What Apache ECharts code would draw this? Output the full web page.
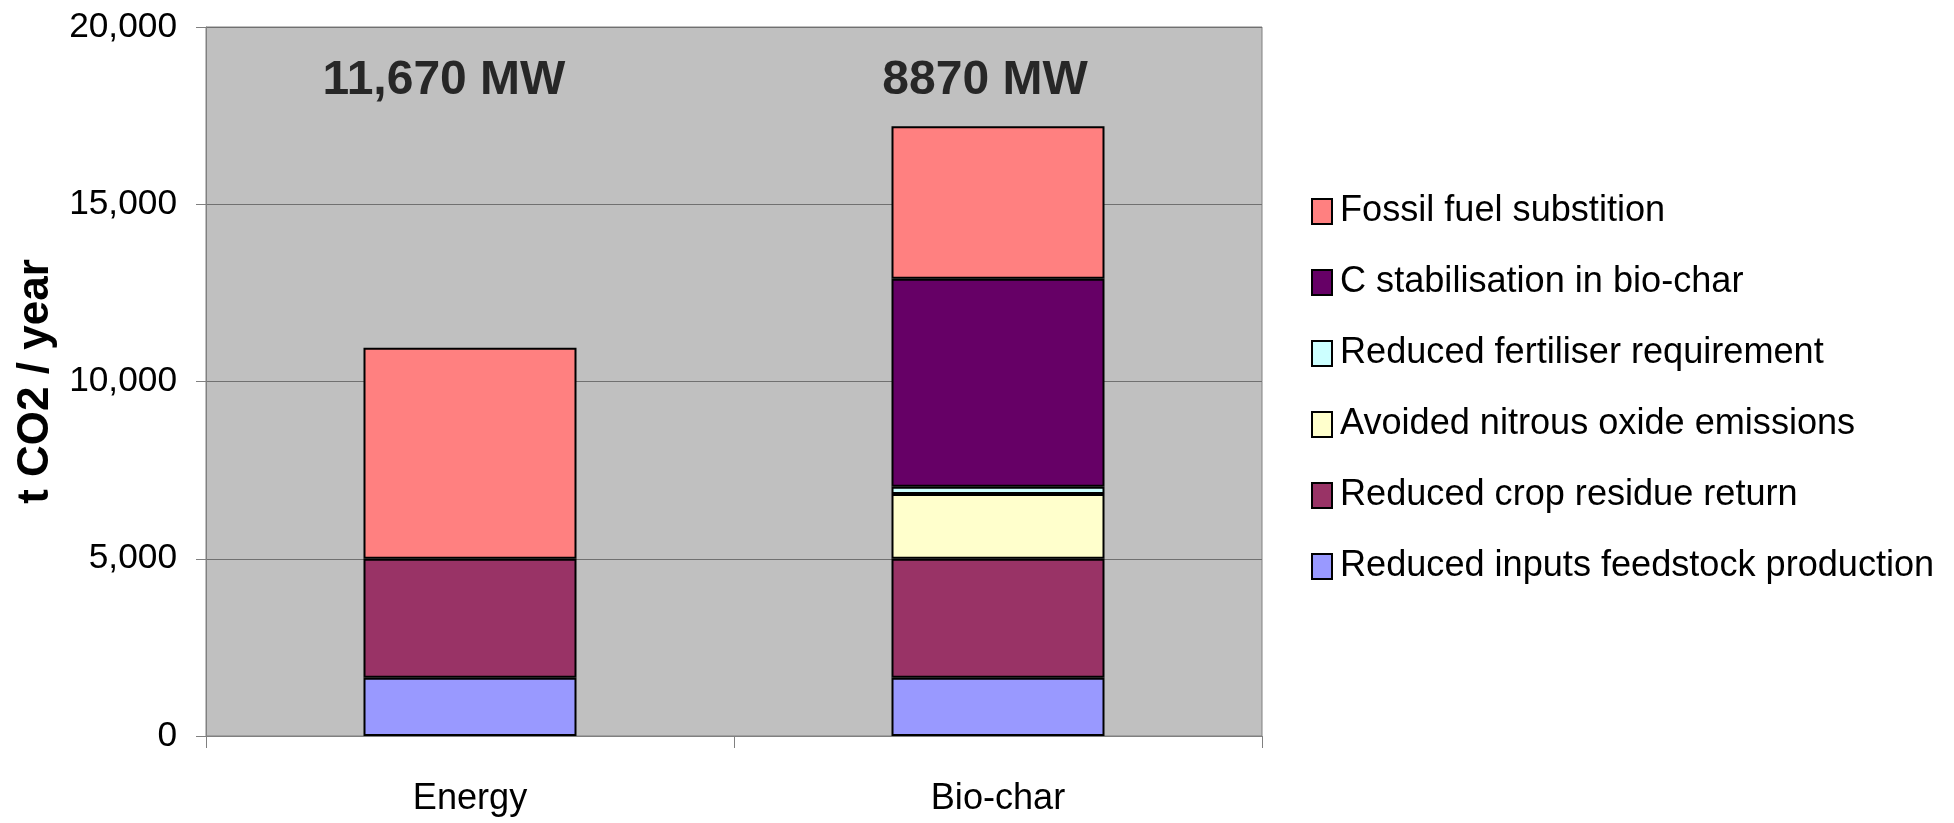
<!DOCTYPE html>
<html>
<head>
<meta charset="utf-8">
<script src="https://cdn.jsdelivr.net/npm/echarts@6/dist/echarts.min.js"></script>
<style>
html,body{margin:0;padding:0;background:#fff;}
#chart{width:1954px;height:823px;}
</style>
</head>
<body>
<div id="chart"></div>
<script>
// ---- data ----
const categories = ['Energy', 'Bio-char'];
const inputsFeedstock = [1640, 1640];
const cropResidue = [3360, 3360];
const nitrousOxide = [null, 1830];
const fertiliser = [null, 200];
const cStabilisation = [null, 5870];
const fossilFuel = [5950, 4300];
const mwLabels = ['11,670 MW', '8870 MW'];
const seriesNames = [
  'Reduced inputs feedstock production',
  'Reduced crop residue return',
  'Avoided nitrous oxide emissions',
  'Reduced fertiliser requirement',
  'C stabilisation in bio-char',
  'Fossil fuel substition'
];
const yTicks = { min: 0, max: 20000, interval: 5000 };

// ---- font detection ----
function hasFont(name) {
  const c = document.createElement('canvas').getContext('2d');
  const s = 'Reduced inputs 15,000 Energy';
  c.font = '40px monospace';
  const a = c.measureText(s).width;
  c.font = '40px "' + name + '", monospace';
  const b = c.measureText(s).width;
  return Math.abs(a - b) > 0.5;
}
let narrowFamily, k = 1;
if (hasFont('Liberation Sans Narrow')) narrowFamily = '"Liberation Sans Narrow"';
else if (hasFont('Arial Narrow')) narrowFamily = '"Arial Narrow"';
else { narrowFamily = '"Liberation Sans", Arial, sans-serif'; k = 0.84; }

const colors = ['#9999FF', '#993366', '#FFFFCC', '#CCFFFF', '#660066', '#FF8080'];
const values = [inputsFeedstock, cropResidue, nitrousOxide, fertiliser, cStabilisation, fossilFuel];

const chart = echarts.init(document.getElementById('chart'));

const barSeries = seriesNames.map((name, i) => ({
  name: name,
  type: 'bar',
  stack: 'total',
  barWidth: 213,
  data: values[i],
  itemStyle: { color: colors[i], borderColor: '#000', borderWidth: 2 },
  emphasis: { disabled: true }
}));

const labelY = 18480;
const labelOffsets = [[-26, 0], [-13, 0]];
const annotation = {
  type: 'scatter',
  symbolSize: 0,
  silent: true,
  z: 10,
  data: categories.map((c, i) => ({
    value: [c, labelY],
    label: {
      show: true,
      position: 'inside',
      formatter: mwLabels[i],
      offset: labelOffsets[i],
      fontFamily: '"Liberation Sans", Arial, sans-serif',
      fontWeight: 'bold',
      fontSize: 48,
      color: '#000'
    }
  }))
};

const option = {
  animation: false,
  backgroundColor: '#fff',
  grid: {
    left: 206, right: 692, top: 27, bottom: 87,
    containLabel: false,
    outerBoundsMode: 'none',
    show: true, backgroundColor: '#C0C0C0', borderColor: '#808080', borderWidth: 1
  },
  legend: {
    orient: 'vertical',
    left: 1306,
    top: 185,
    icon: 'rect',
    itemWidth: 20,
    itemHeight: 25,
    itemGap: 28,
    selectedMode: false,
    data: seriesNames.slice().reverse(),
    itemStyle: { borderColor: '#000', borderWidth: 2 },
    textStyle: {
      fontFamily: narrowFamily,
      fontSize: 43 * k,
      lineHeight: 43,
      color: '#000',
      padding: [0, 0, 0, 3]
    }
  },
  xAxis: {
    type: 'category',
    data: categories,
    axisLine: { show: true, lineStyle: { color: '#808080', width: 1 } },
    axisTick: { show: true, length: 12, lineStyle: { color: '#808080' } },
    axisLabel: {
      fontFamily: narrowFamily,
      fontSize: 43 * k,
      color: '#000',
      margin: 45
    },
    splitLine: { show: false }
  },
  yAxis: {
    type: 'value',
    min: yTicks.min, max: yTicks.max, interval: yTicks.interval,
    name: 't CO2 / year',
    nameLocation: 'middle',
    nameGap: 146,
    nameTextStyle: {
      fontFamily: '"Liberation Sans", Arial, sans-serif',
      fontWeight: 'bold',
      fontSize: 44,
      color: '#000'
    },
    axisLine: { show: true, lineStyle: { color: '#808080', width: 1 } },
    axisTick: { show: true, length: 10, lineStyle: { color: '#808080' } },
    axisLabel: {
      fontFamily: narrowFamily,
      fontSize: 42 * k,
      color: '#000',
      margin: 29,
      formatter: v => v.toLocaleString('en-US')
    },
    splitLine: { show: true, lineStyle: { color: '#707070', width: 1 } }
  },
  series: barSeries.concat([annotation])
};

chart.setOption(option);
</script>
</body>
</html>
